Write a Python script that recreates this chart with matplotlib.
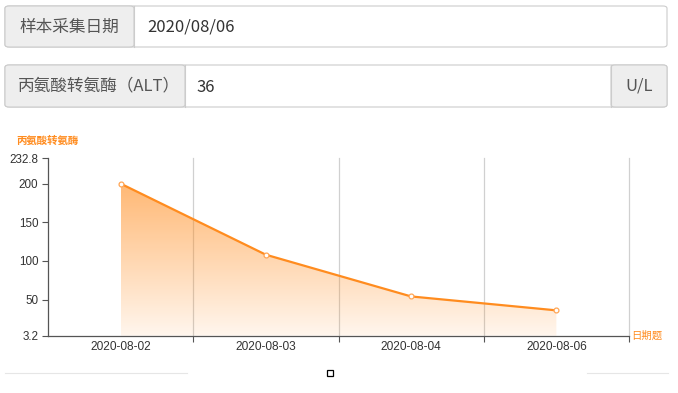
import numpy as np
import matplotlib.pyplot as plt
from matplotlib.patches import FancyBboxPatch, Rectangle, Polygon
from matplotlib.lines import Line2D

plt.rcParams['font.family'] = ['Noto Sans CJK SC', 'DejaVu Sans']

# data
dates = ["2020-08-02", "2020-08-03", "2020-08-04", "2020-08-06"]
alt_values = [200, 108, 54, 36]
y_ticks = [3.2, 50, 100, 150, 200, 232.8]
y_min, y_max = 3.2, 232.8

sample_label = "样本采集日期"
sample_date = "2020/08/06"
item_label = "丙氨酸转氨酶（ALT）"
item_value = "36"
item_unit = "U/L"

W, H = 678, 393
fig = plt.figure(figsize=(W / 100, H / 100), dpi=100)


def fx(px):
    return px / W


def fy(py):
    return 1 - py / H


def box(x0, x1, y0, y1, fc, ec="#cccccc"):
    p = FancyBboxPatch((fx(x0), fy(y1)), fx(x1) - fx(x0), fy(y0) - fy(y1),
                       boxstyle="round,pad=0,rounding_size=0.006",
                       transform=fig.transFigure, fc=fc, ec=ec, lw=0.8)
    fig.add_artist(p)


# input row 1
box(5, 667, 6, 47, "white")
box(5, 134, 6, 47, "#eeeeee")
fig.add_artist(Line2D([fx(134)] * 2, [fy(6), fy(47)], color="#cccccc", lw=0.8))
fig.text(fx(69), fy(27), sample_label, ha="center", va="center", fontsize=12, color="#555555")
fig.text(fx(147), fy(27), sample_date, ha="left", va="center", fontsize=12, color="#333333")

# input row 2
box(5, 667, 65, 107, "white")
box(5, 185, 65, 107, "#eeeeee")
box(611, 667, 65, 107, "#eeeeee")
fig.add_artist(Line2D([fx(185)] * 2, [fy(65), fy(107)], color="#cccccc", lw=0.8))
fig.add_artist(Line2D([fx(611)] * 2, [fy(65), fy(107)], color="#cccccc", lw=0.8))
fig.text(fx(18), fy(86), item_label, ha="left", va="center", fontsize=12, color="#555555")
fig.text(fx(196), fy(87), item_value, ha="left", va="center", fontsize=12, color="#333333")
fig.text(fx(639), fy(86), item_unit, ha="center", va="center", fontsize=12, color="#555555")

# chart
ax = fig.add_axes([fx(48), fy(335.7), fx(629) - fx(48), fy(158.3) - fy(335.7)])
n = len(dates)
xs = np.arange(n) + 0.5
ax.set_xlim(0, n)
ax.set_ylim(y_min, y_max)

orange = "#ff8c1f"
# gradient fill under the line
grad = np.linspace(0.08, 0.62, 256).reshape(-1, 1)
img = np.zeros((256, 1, 4))
img[..., 0] = 1.0
img[..., 1] = 0.55
img[..., 2] = 0.12
img[..., 3] = grad
im = ax.imshow(img, extent=[xs[0], xs[-1], y_min, max(alt_values)],
               origin="lower", aspect="auto", zorder=1)
poly = Polygon(list(zip(xs, alt_values)) + [(xs[-1], y_min), (xs[0], y_min)],
               closed=True, transform=ax.transData, fc="none", ec="none")
ax.add_patch(poly)
im.set_clip_path(poly)

ax.plot(xs, alt_values, color=orange, lw=1.6, zorder=3)
ax.plot(xs, alt_values, "o", ms=3.5, mfc="white", mec="#ffa555", mew=0.9, zorder=4)

tick_font = ["Liberation Sans", "DejaVu Sans"]
ax.set_xticks(np.arange(1, n + 1), [""] * n)
ax.set_xticks(xs, dates, minor=True, family=tick_font)
ax.tick_params(axis="x", which="major", length=4, color="#555555", width=0.8)
ax.tick_params(axis="x", which="minor", length=0, labelsize=8.6, labelcolor="#333333", pad=4)
for b in range(1, n + 1):
    ax.axvline(b, color="#d0d0d0", lw=0.9, zorder=0, clip_on=False)

ax.set_yticks(y_ticks, [f"{v:g}" for v in y_ticks], family=tick_font)
ax.tick_params(axis="y", length=4, color="#555555", width=0.8, labelsize=8.4, labelcolor="#333333", pad=3)

for s in ["top", "right"]:
    ax.spines[s].set_visible(False)
for s in ["left", "bottom"]:
    ax.spines[s].set_color("#555555")
    ax.spines[s].set_linewidth(0.9)

fig.text(fx(16), fy(141), "丙氨酸转氨酶", ha="left", va="center", fontsize=7.5,
         color=orange, fontweight="bold")
fig.text(fx(631), fy(336), "日期题", ha="left", va="center", fontsize=7.5, color=orange)

# bottom decorations
fig.add_artist(Line2D([fx(5), fx(187)], [fy(373)] * 2, color="#e6e6e6", lw=0.8))
fig.add_artist(Line2D([fx(587), fx(668)], [fy(373)] * 2, color="#e6e6e6", lw=0.8))
fig.add_artist(Rectangle((fx(326.5), fy(375.5)), fx(6), fy(0) - fy(6),
                         transform=fig.transFigure, fc="white", ec="black", lw=0.9))

fig.savefig("out.png", dpi=100)
